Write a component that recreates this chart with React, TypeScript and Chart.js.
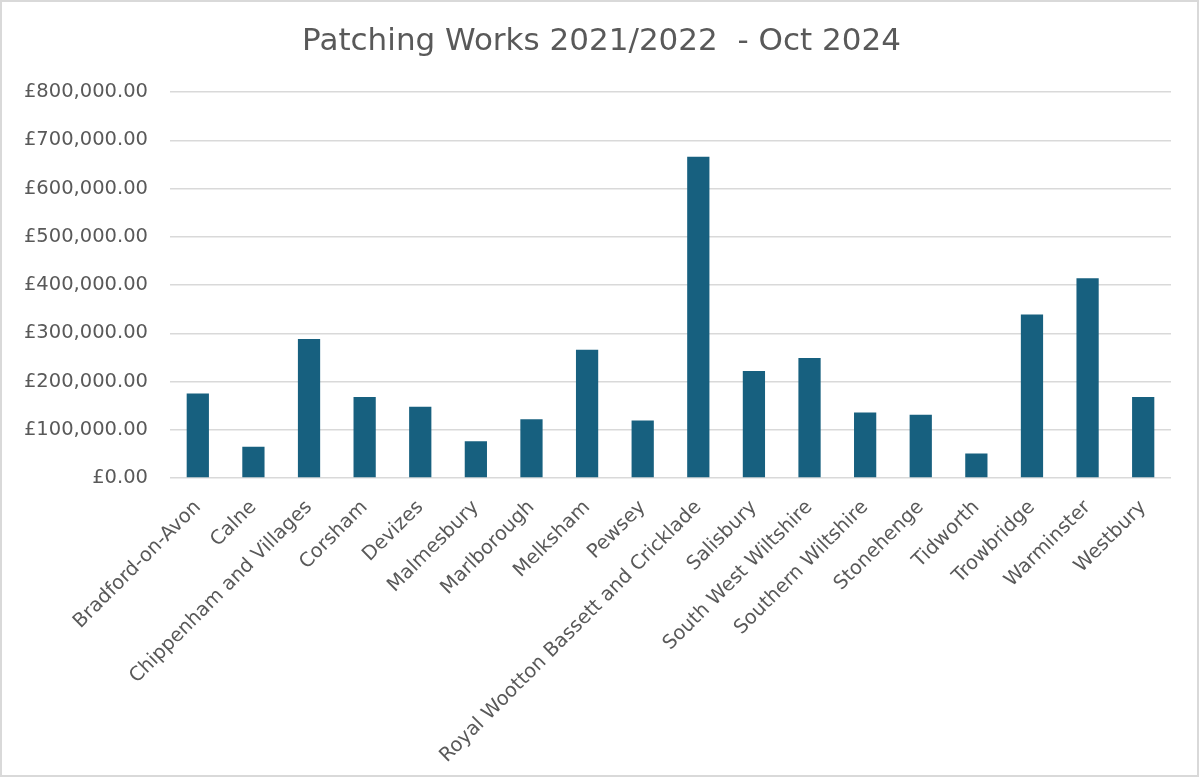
import React, { useEffect, useRef } from "react";
import { Chart, registerables } from "chart.js";

Chart.register(...registerables);

const categories: string[] = [
  "Bradford-on-Avon",
  "Calne",
  "Chippenham and Villages",
  "Corsham",
  "Devizes",
  "Malmesbury",
  "Marlborough",
  "Melksham",
  "Pewsey",
  "Royal Wootton Bassett and Cricklade",
  "Salisbury",
  "South West Wiltshire",
  "Southern Wiltshire",
  "Stonehenge",
  "Tidworth",
  "Trowbridge",
  "Warminster",
  "Westbury",
];

const patchingCosts: number[] = [
  175000, 65000, 288000, 168000, 148000, 76000, 122000, 266000, 119000,
  666000, 222000, 249000, 136000, 131000, 51000, 339000, 414000, 168000,
];

const titleText = "Patching Works 2021/2022  - Oct 2024";
const yMin = 0;
const yMax = 800000;
const yStep = 100000;

const FONT = "'DejaVu Sans', 'Noto Sans', Arial, sans-serif";
const TEXT = "#595959";
const GRID = "#D9D9D9";
const BAR = "#17607F";

const borderPlugin = {
  id: "outerBorder",
  beforeDraw(chart: any) {
    const ctx = chart.ctx;
    ctx.save();
    ctx.fillStyle = "#ffffff";
    ctx.fillRect(0, 0, chart.width, chart.height);
    ctx.strokeStyle = GRID;
    ctx.lineWidth = 2;
    ctx.strokeRect(1, 1, chart.width - 4, chart.height - 3);
    ctx.restore();
  },
};

// centre the title across the whole chart frame rather than the padded box
const titleCentrePlugin = {
  id: "titleCentre",
  afterLayout(chart: any) {
    const tb = chart.titleBlock;
    if (tb) {
      tb.left = 32;
      tb.right = chart.width - 30;
    }
  },
};

export default function App() {
  const ref = useRef<HTMLCanvasElement | null>(null);

  useEffect(() => {
    if (!ref.current) return;
    const chart = new Chart(ref.current, {
      type: "bar",
      data: {
        labels: categories,
        datasets: [
          {
            label: "Patching Works",
            data: patchingCosts,
            backgroundColor: BAR,
            borderWidth: 0,
            categoryPercentage: 1,
            barPercentage: 0.4,
          },
        ],
      },
      options: {
        animation: false,
        responsive: false,
        maintainAspectRatio: false,
        layout: { padding: { left: 0, right: 30, top: 0, bottom: 0 } },
        plugins: {
          legend: { display: false },
          tooltip: { enabled: false },
          title: {
            display: true,
            text: titleText,
            color: TEXT,
            font: { family: FONT, size: 31, weight: "normal" },
            padding: { top: 23, bottom: 32 },
          },
        },
        scales: {
          x: {
            grid: { display: false },
            border: { display: false },
            ticks: {
              autoSkip: false,
              minRotation: 45,
              maxRotation: 45,
              color: TEXT,
              font: { family: FONT, size: 19.5 },
              padding: 10,
            },
            afterFit(scale: any) {
              scale.height = 300;
            },
          },
          y: {
            min: yMin,
            max: yMax,
            grid: { color: GRID, lineWidth: 1.5, drawTicks: false },
            border: { display: false },
            ticks: {
              stepSize: yStep,
              color: TEXT,
              padding: 22,
              font: { family: FONT, size: 19.5 },
              callback: (v: any) =>
                "£" +
                Number(v).toLocaleString("en-GB", {
                  minimumFractionDigits: 2,
                  maximumFractionDigits: 2,
                }),
            },
            afterFit(scale: any) {
              scale.width = 170;
            },
          },
        },
      },
      plugins: [borderPlugin, titleCentrePlugin],
    });
    return () => chart.destroy();
  }, []);

  return (
    <div style={{ position: "fixed", left: 0, top: 0, width: 1201, height: 778, background: "#fff" }}>
      <canvas ref={ref} width={1201} height={778} style={{ width: 1201, height: 778, display: "block" }} />
    </div>
  );
}
